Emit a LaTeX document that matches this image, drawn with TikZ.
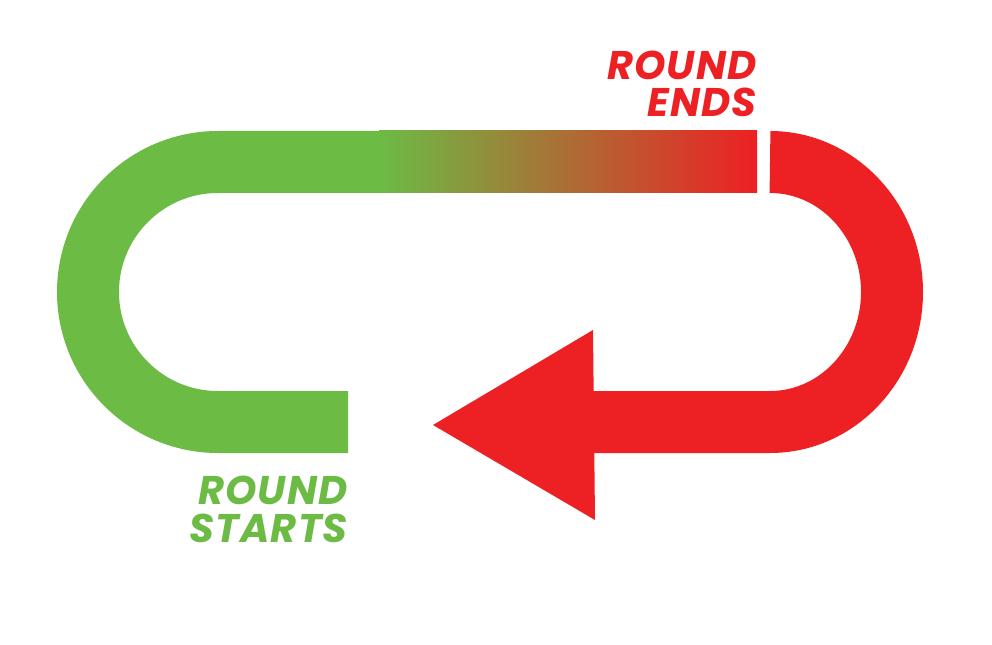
\documentclass[tikz,border=0pt]{standalone}
\usepackage{fontspec}
\setmainfont{Poppins}[LetterSpace=3]
\usetikzlibrary{positioning}
\definecolor{loopgreen}{RGB}{108,187,69}
\definecolor{loopred}{RGB}{237,32,36}
\tikzset{
  loopband/.style={
    line width=46.5pt,
    line cap=butt,
    line join=round
  },
  looplabel/.style={
    font=\fontsize{30}{30}\selectfont\bfseries\itshape,
    text height=20.7pt,
    text depth=0pt,
    inner sep=0pt
  }
}

\begin{document}
\begin{tikzpicture}[x=0.75pt, y=-0.75pt]
\useasboundingbox (0,0) rectangle (992,645);

% green start of the round
\coordinate (start) at (348,422);
\coordinate (fade) at (380,162);
\draw[loopband, draw=loopgreen] (start) -- (218,422)
  arc[start angle=90, end angle=270, x radius=130, y radius=130] -- (fade);

% colour change along the top
\shade[left color=loopgreen, right color=loopred]
  (379,131) rectangle (757,193);

% red return with arrow head
\coordinate (back) at (593,422);
\draw[loopband, draw=loopred] (770,162)
  arc[start angle=-90, end angle=90, x radius=122, y radius=130] -- (back);
\fill[loopred] (433,425) -- (593,330) -- (595,520) -- cycle;

% labels
\node[looplabel, text=loopred, anchor=north east] (endsA) at (757,52) {ROUND};
\node[looplabel, text=loopred, below=6.75pt of endsA.south east, anchor=north east] (endsB) {ENDS};
\node[looplabel, text=loopgreen, anchor=north east] (startsA) at (348,477) {ROUND};
\node[looplabel, text=loopgreen, below=6.75pt of startsA.south east, anchor=north east] (startsB) {STARTS};
\end{tikzpicture}
\end{document}
